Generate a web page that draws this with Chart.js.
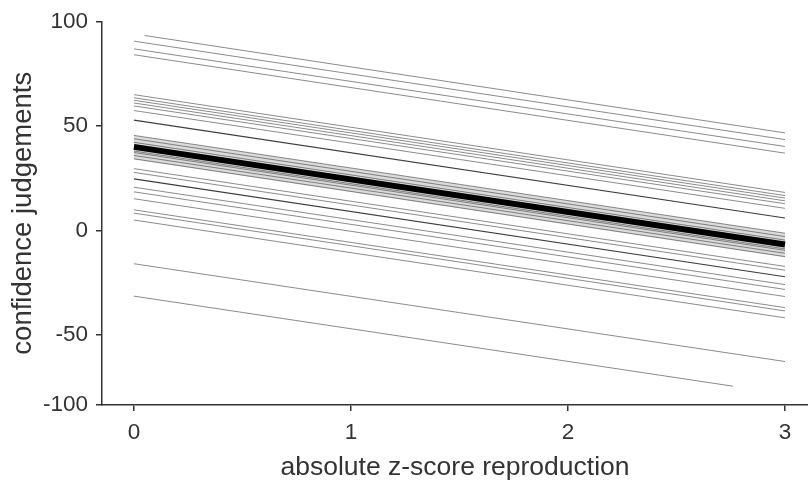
<!DOCTYPE html>
<html>
<head>
<meta charset="utf-8">
<script src="https://cdn.jsdelivr.net/npm/chart.js@4.4.1/dist/chart.umd.min.js"></script>
<style>
  html, body { margin: 0; padding: 0; background: #fff; }
  #wrap { width: 808px; height: 485px; }
</style>
</head>
<body>
<div id="wrap"><canvas id="chart" width="808" height="485"></canvas></div>
<script>
// thin lines (one per participant): start / end of each segment
const LINE_X_START = [0.05, 0, 0, 0,   0, 0, 0, 0, 0, 0, 0,   0, 0, 0, 0, 0, 0, 0,   0, 0, 0, 0, 0, 0, 0, 0, 0,   0, 0];
const LINE_X_END   = [3, 3, 3, 3,      3, 3, 3, 3, 3, 3, 3,   3, 3, 3, 3, 3, 3, 3,   3, 3, 3, 3, 3, 3, 3, 3, 3,   3, 2.76];
const LINE_Y_START = [93.3, 90.6, 86.9, 84.1,
                      65.0, 63.5, 62.3, 61.0, 59.6, 57.4, 52.8,
                      45.5, 43.9, 42.2, 38.0, 37.3, 35.9, 34.3,
                      29.6, 27.8, 24.7, 20.7, 18.5, 15.2, 9.9, 8.3, 5.0,
                      -15.9, -31.4];
const LINE_Y_END   = [46.7, 43.5, 40.2, 37.0,
                      18.2, 16.7, 15.5, 14.2, 12.8, 10.6, 6.0,
                      -1.3, -2.9, -4.6, -8.8, -9.5, -10.9, -12.5,
                      -17.2, -19.0, -22.1, -25.9, -28.2, -31.6, -36.9, -38.5, -41.8,
                      -62.7, -74.5];
// darker lines
const DARK_LINES = [10, 20];

// group mean line and its band
const MEAN_X = [0, 3];
const MEAN_Y = [40.0, -6.7];
const BAND_UPPER = [45.5, -1.3];
const BAND_LOWER = [34.0, -12.8];

const X_TICKS = [0, 1, 2, 3];
const Y_TICK_VALUES = [-83.5, -50, 0, 50, 100];
const Y_TICK_LABELS = ['-100', '-50', '0', '50', '100'];

const FONT = "'Liberation Sans', Arial, sans-serif";
const INK = '#333333';

const datasets = [];

datasets.push({
  data: MEAN_X.map((x, i) => ({ x, y: BAND_UPPER[i] })),
  borderWidth: 0, borderColor: 'rgba(0,0,0,0)',
  backgroundColor: 'rgba(0,0,0,0.14)', fill: '+1', order: 3
});
datasets.push({
  data: MEAN_X.map((x, i) => ({ x, y: BAND_LOWER[i] })),
  borderWidth: 0, borderColor: 'rgba(0,0,0,0)', fill: false, order: 3
});

LINE_Y_START.forEach((y0, i) => {
  const dark = DARK_LINES.includes(i);
  datasets.push({
    data: [{ x: LINE_X_START[i], y: y0 }, { x: LINE_X_END[i], y: LINE_Y_END[i] }],
    borderColor: dark ? 'rgba(40,40,40,0.9)' : 'rgba(70,70,70,0.7)',
    borderWidth: dark ? 1.1 : 0.9,
    fill: false, order: 2
  });
});

datasets.push({
  data: MEAN_X.map((x, i) => ({ x, y: MEAN_Y[i] })),
  borderColor: '#000', borderWidth: 6, fill: false, order: 0
});

new Chart(document.getElementById('chart'), {
  type: 'scatter',
  data: { datasets: datasets.map(d => Object.assign({ showLine: true, pointRadius: 0, tension: 0 }, d)) },
  options: {
    responsive: false,
    animation: false,
    events: [],
    layout: { padding: { top: 21, left: 0, right: 0, bottom: 0 } },
    plugins: { legend: { display: false }, tooltip: { enabled: false } },
    scales: {
      x: {
        type: 'linear',
        min: -0.147, max: 3.106,
        afterBuildTicks: s => { s.ticks = X_TICKS.map(v => ({ value: v })); },
        afterFit: s => { s.height = 80; },
        grid: { display: true, drawOnChartArea: false, drawTicks: true, tickLength: 6, color: INK, lineWidth: 1.5 },
        border: { display: true, color: INK, width: 1.5 },
        ticks: { color: INK, font: { family: FONT, size: 22.5 }, padding: 8, maxRotation: 0 },
        title: { display: true, text: 'absolute z-score reproduction', color: INK,
                 font: { family: FONT, size: 26.5 }, padding: { top: 0, bottom: 1 } }
      },
      y: {
        type: 'linear',
        min: -83.5, max: 100,
        afterBuildTicks: s => { s.ticks = Y_TICK_VALUES.map(v => ({ value: v })); },
        afterFit: s => { s.width = 102; },
        grid: { display: true, drawOnChartArea: false, drawTicks: true, tickLength: 6, color: INK, lineWidth: 1.5 },
        border: { display: true, color: INK, width: 1.5 },
        ticks: { color: INK, font: { family: FONT, size: 22.5 }, padding: 8,
                 callback: (v, i) => Y_TICK_LABELS[i] },
        title: { display: true, text: 'confidence judgements', color: INK,
                 font: { family: FONT, size: 27.5 }, padding: { top: 7, bottom: 0 } }
      }
    }
  }
});
</script>
</body>
</html>
